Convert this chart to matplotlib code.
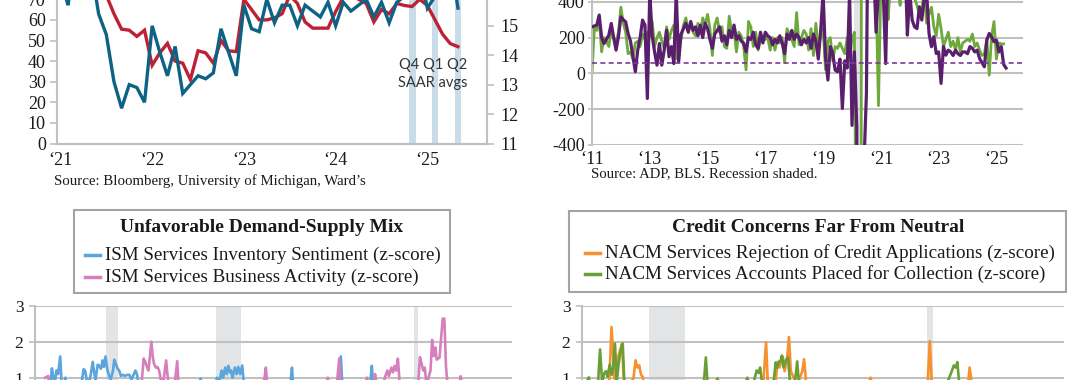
import matplotlib.pyplot as plt
from matplotlib.lines import Line2D
from matplotlib.patches import Rectangle

plt.rcParams['font.family'] = ['Liberation Serif', 'DejaVu Serif']
plt.rcParams['axes.unicode_minus'] = False

# ---------------- data ----------------
# top left: monthly, index 0 = Jan 2021
saar = [16.6, 15.7, 17.8, 18.5, 17.0, 15.4, 14.7, 13.1, 12.2, 13.0, 12.9, 12.4,
        15.0, 14.1, 13.3, 14.3, 12.7, 13.0, 13.3, 13.2, 13.4, 14.9, 14.1, 13.3,
        15.7, 14.9, 14.8, 15.9, 15.1, 15.7, 15.7, 15.0, 15.7, 15.5, 15.3, 15.8,
        15.0, 15.8, 15.5, 15.7, 15.9, 15.3, 15.8, 15.1, 15.8, 16.0, 16.5, 16.8,
        15.6, 16.0, 17.8, 17.3, 15.6]
umich = [78, 80, 84, 88, 81, 76, 72, 63, 55.5, 55, 52, 55,
         38, 44, 48.6, 40, 39, 31, 45, 44, 39, 50, 45, 44.6,
         70, 65, 60, 60, 61, 63, 72, 68, 59, 56, 56, 56,
         64, 71, 72, 70, 68, 59, 65, 63, 68, 67, 66.5, 70,
         67, 60, 53, 48.5, 47]
qtr_month = [46, 49, 52]
qtr_saar = [16.4, 16.5, 16.1]
qtr_labels = ['Q4', 'Q1', 'Q2']

# top right: monthly, index 0 = Jan 2011
adp = [260, 265, 270, 326, 200, 167, 190, 214, 279, 200, 130, 205,
       316, 300, 288, 223, 180, 93, 9, 130, 200, 298, 270, -140,
       450, 210, 120, 46, 167, 46, 130, 242, 93, 150, 55, 450,
       65, 220, 250, 280, 230, 290, 240, 260, 210, 270, 200, 280,
       250, 190, 140, 220, 240, 260, 180, 210, 160, 240, 200, 270,
       190, 210, 180, 170, 120, 200, 190, 230, 160, 140, 230, 170,
       230, 210, 200, 160, 190, 170, 210, 170, 110, 220, 190, 240,
       190, 220, 200, 160, 190, 170, 200, 140, 220, 180, 80, 240,
       450, 90, -37, 150, 111, 19, 9, 80, -196, 70, 30, 450,
       -290, 120, -300, -19400, -2800, -500, -110, 1500, 900, 600, 230, 450,
       480, 450, 55, 700, 650, 700, 600, 450, 600, 700, 650, 214,
       450, 298, 260, 250, 372, 298, 420, 450, 223, 149, 205, 111,
       120, -56, 150, 102, 130, 120, 100, 130, 110, 100, 120, 120,
       110, 150, 140, 120, 130, 83, 60, 37, 186, 223, 205, 177,
       186, 120, 150, 50, 30]
bls = [5, 255, 240, 310, 120, 200, 180, 150, 250, 200, 170, 230,
       370, 280, 230, 110, 120, 80, 170, 180, 150, 220, 190, 230,
       210, 290, 150, 200, 230, 180, 140, 260, 190, 240, 270, 80,
       180, 190, 270, 310, 230, 280, 230, 210, 280, 220, 310, 270,
       330, 250, 100, 270, 310, 230, 260, 150, 140, 320, 230, 240,
       120, 230, 210, 150, 20, 290, 260, 150, 230, 130, 180, 200,
       190, 200, 130, 200, 130, 200, 170, 200, 60, 250, 220, 190,
       150, 340, 160, 200, 240, 220, 130, 250, 100, 280, 140, 210,
       250, 20, 180, 200, 70, 150, 140, 170, 140, 110, 200, 100,
       190, 230, -1500, -19800, 3200, 4700, 1400, 1000, 800, 1000, 450, -180,
       500, 600, 700, 300, 500, 600, 700, 500, 380, 650, 700, 600,
       450, 800, 420, 380, 330, 360, 450, 280, 330, 370, 260, 210,
       330, 250, 150, 190, 230, 150, 180, 130, 200, 120, 170, 180,
       190, 180, 220, 150, 170, 130, 100, 110, 190, -10, 210, 290,
       80, 170, 165, 165]
adp_breakeven = 60

recessions = [(2001 + 2 / 12, 2001 + 11 / 12), (2007 + 11 / 12, 2009 + 6 / 12),
              (2020 + 1 / 12, 2020 + 4 / 12)]

# bottom left: ISM services z-scores (decimal year, value)
inv_yr = [1997.55, 1997.8, 1997.87, 1997.95, 1998.05, 1998.15, 1998.25, 1998.38, 1998.46, 1998.6,
          1998.7, 1998.8, 1999.6, 1999.82, 1999.92, 2000.02, 2000.2, 2000.38, 2000.46, 2000.55,
          2000.68, 2000.78, 2000.88, 2000.98, 2001.06, 2001.16, 2001.26, 2001.38, 2001.48, 2001.62,
          2001.7, 2001.8, 2001.9, 2002.0, 2002.1, 2002.22, 2002.35, 2002.5, 2002.62, 2002.75,
          2002.9, 2003.0, 2003.1, 2003.25, 2006.9, 2007.0, 2007.1, 2007.9, 2008.0, 2008.15,
          2008.28, 2008.38, 2008.5, 2008.6, 2008.7, 2008.8, 2008.87, 2008.95, 2009.1, 2009.2,
          2009.3, 2009.42, 2009.55, 2009.65, 2012.45, 2012.6, 2012.7, 2015.45, 2015.6, 2015.7,
          2017.35, 2017.5, 2017.6, 2025.4]
inv_val = [0.5, 0.9, 1.26, 1.05, 0.85, 1.2, 1.1, 1.59, 0.9, 0.8,
           1.0, 0.5, 0.6, 1.24, 1.18, 0.9, 0.95, 1.44, 1.15, 0.95,
           1.36, 1.33, 1.25, 1.48, 1.3, 1.59, 1.25, 1.05, 0.95, 1.2,
           1.5, 1.38, 1.25, 1.2, 1.05, 1.08, 1.05, 1.08, 1.08, 0.95,
           1.1, 1.2, 1.08, 0.6, 0.6, 0.98, 0.6, 0.8, 1.0, 0.9,
           1.2, 1.0, 1.28, 1.1, 1.33, 1.15, 1.2, 1.0, 1.28, 1.1,
           1.3, 1.1, 1.34, 0.8, 0.6, 1.28, 0.6, 0.7, 1.59, 0.7,
           0.6, 1.33, 0.7, 0.3]
act_yr = [1997.45, 1997.55, 1997.65, 1997.75, 2003.35, 2003.5, 2003.6, 2003.7, 2003.8, 2003.97,
          2004.07, 2004.14, 2004.25, 2004.35, 2004.45, 2004.55, 2004.7, 2004.88, 2004.98, 2005.1,
          2005.4, 2005.56, 2005.65, 2010.8, 2010.92, 2011.0, 2011.1, 2014.7, 2014.8, 2014.9,
          2015.35, 2015.5, 2015.6, 2017.1, 2017.2, 2017.3, 2017.6, 2017.7, 2017.8, 2018.2,
          2018.3, 2018.45, 2018.55, 2018.7, 2018.8, 2018.9, 2019.0, 2019.1, 2019.2, 2020.3,
          2020.45, 2020.55, 2020.65, 2020.75, 2020.85, 2021.1, 2021.2, 2021.3, 2021.4, 2021.48,
          2021.55, 2021.65, 2021.75, 2021.85, 2021.95, 2022.05, 2022.15, 2022.85, 2022.95, 2023.05,
          2025.4]
act_val = [1.0, 1.02, 1.05, 0.6, 0.7, 1.53, 1.44, 1.3, 1.2, 2.0,
           1.55, 1.38, 1.28, 1.3, 1.2, 0.95, 0.85, 1.48, 1.0, 0.7,
           0.8, 1.46, 0.7, 0.8, 1.0, 1.28, 0.7, 0.8, 1.0, 0.8,
           0.8, 1.53, 0.8, 0.8, 1.0, 0.8, 0.8, 1.1, 0.8, 0.8,
           1.0, 1.2, 1.05, 1.28, 1.15, 1.33, 1.2, 1.53, 0.9, 0.5,
           1.57, 1.4, 1.2, 1.28, 0.8, 1.2, 2.05, 1.6, 1.84, 1.5,
           1.53, 1.55, 2.1, 2.64, 2.64, 1.3, 0.8, 0.8, 1.04, 0.8,
           0.2]

# bottom right: NACM services z-scores (decimal year, value)
rej_yr = [2005.0, 2006.1, 2006.2, 2006.29, 2006.36, 2006.42, 2006.5, 2006.58, 2006.64, 2006.7,
          2006.75, 2006.82, 2007.0, 2007.25, 2007.34, 2007.42, 2007.5, 2007.58, 2007.65, 2007.75,
          2012.9, 2013.04, 2013.12, 2013.45, 2013.55, 2013.62, 2013.77, 2013.85, 2013.95, 2014.04,
          2014.12, 2014.4, 2014.62, 2014.7, 2014.8, 2017.5, 2017.6, 2017.7, 2020.1, 2020.19,
          2020.28, 2021.85, 2021.93, 2022.05, 2025.4]
rej_val = [0.5, 0.6, 1.0, 2.42, 1.7, 1.0, 1.3, 1.6, 1.73, 1.85,
           1.96, 1.0, 0.8, 1.0, 1.5, 1.3, 1.36, 1.1, 1.05, 0.7,
           0.7, 2.0, 0.8, 0.9, 1.46, 1.3, 1.6, 1.2, 1.5, 2.14,
           1.2, 0.8, 1.2, 1.53, 0.8, 0.8, 1.02, 0.8, 0.9, 2.03,
           0.8, 0.8, 1.3, 0.7, 0.3]
col_yr = [2005.0, 2005.2, 2005.3, 2005.4, 2005.7, 2005.79, 2005.88, 2005.98, 2006.05, 2006.12,
          2006.21, 2006.3, 2006.36, 2006.44, 2006.52, 2006.6, 2006.7, 2006.78, 2006.85, 2007.0,
          2010.3, 2010.41, 2010.5, 2010.85, 2010.92, 2011.0, 2012.15, 2012.22, 2012.3, 2012.5,
          2012.63, 2012.72, 2012.78, 2012.86, 2013.35, 2013.46, 2013.52, 2013.6, 2013.68, 2013.73,
          2013.8, 2013.9, 2014.0, 2014.08, 2014.3, 2014.4, 2014.48, 2020.9, 2021.15, 2021.24,
          2021.32, 2021.39, 2021.47, 2025.4]
col_val = [0.6, 0.9, 1.03, 0.7, 0.85, 1.8, 0.9, 1.15, 1.2, 1.05,
           1.38, 1.1, 1.3, 1.96, 0.9, 1.4, 1.8, 1.96, 0.9, 0.6,
           0.7, 1.58, 0.7, 0.9, 1.0, 0.8, 0.9, 1.02, 0.8, 0.9,
           1.22, 1.15, 1.3, 0.9, 0.8, 1.44, 1.3, 1.45, 1.5, 1.63,
           1.3, 1.5, 1.58, 0.9, 0.9, 1.47, 0.8, 0.8, 1.2, 1.36,
           1.3, 1.45, 0.9, 0.3]

# ---------------- layout helpers ----------------
W, H = 1080, 380
GRID = '#c0c0c0'
TXT = '#1a1a1a'
REC = '#e3e4e6'
fig = plt.figure(figsize=(W / 100, H / 100), dpi=100)


def box(left, top, right, bottom):
    # pixel box -> figure fraction rect
    return [left / W, 1 - bottom / H, (right - left) / W, (bottom - top) / H]


def fx(px):
    return px / W


def fy(py):
    return 1 - py / H


def style(a, left=True, right=False, bottom=True):
    for side, on in (('left', left), ('right', right), ('bottom', bottom), ('top', False)):
        a.spines[side].set_visible(on)
        a.spines[side].set_color(GRID)
        a.spines[side].set_linewidth(1.5)
    a.tick_params(colors=GRID, labelcolor=TXT, labelsize=13, width=1.2)


# ---------------- top left ----------------
ax = fig.add_axes(box(57, -62.5, 487, 143.5))
ax2 = ax.twinx()
months = list(range(len(saar)))
ax2.bar(qtr_month, qtr_saar, width=0.9, color='#c8dcea', zorder=1)
ax2.plot(range(len(umich)), umich, color='#be2135', lw=2.4, zorder=2,
         transform=ax.transData, solid_joinstyle='miter')
ax2.plot(months, saar, color='#0e6384', lw=2.4, zorder=3, solid_joinstyle='miter')
ax.set_xlim(-0.45, 55.8)
ax.set_ylim(0, 100)
ax2.set_ylim(11, 18)
ax.set_yticks(range(0, 71, 10))
ax2.set_yticks(range(11, 16))
ax.set_xticks([0, 12, 24, 36, 48])
ax.set_xticklabels(['\u201821', '\u201822', '\u201823', '\u201824', '\u201825'])
style(ax)
style(ax2, left=False, right=True)
ax.tick_params(axis='x', length=0, pad=6)
ax.tick_params(axis='y', length=5, pad=3)
ax2.tick_params(axis='y', length=5, pad=5)
fig.text(fx(433), fy(65), ' '.join(qtr_labels), family='Lato', fontsize=10.5,
         color='#333333', ha='center', va='center')
fig.text(fx(433), fy(83), 'SAAR avgs', family='Lato', fontsize=10.5,
         color='#333333', ha='center', va='center')
fig.text(fx(54), fy(181), 'Source: Bloomberg, University of Michigan, Ward\u2019s',
         fontsize=10.7, color=TXT, va='center')

# ---------------- top right ----------------
ax3 = fig.add_axes(box(591.7, -34, 1023.3, 145))
yrs_adp = [2011 + i / 12 for i in range(len(adp))]
yrs_bls = [2011 + i / 12 for i in range(len(bls))]
for s, e in recessions:
    ax3.axvspan(s, e, color=REC, lw=0, zorder=0)
ax3.plot(yrs_bls, bls, color='#6ea93c', lw=2.0, zorder=2)
ax3.plot(yrs_adp, adp, color='#5a1f6c', lw=2.3, zorder=3)
ax3.axhline(adp_breakeven, color='#7a3c9a', lw=1.2, ls=(0, (3, 2)), zorder=4)
ax3.set_xlim(2010.99, 2025.93)
ax3.set_ylim(-400, 600)
ax3.set_yticks(range(-400, 401, 200))
ax3.set_xticks(range(2011, 2026, 2))
ax3.set_xticklabels(['\u2018%02d' % (y % 100) for y in range(2011, 2026, 2)])
ax3.grid(axis='y', color=GRID, lw=1.5)
ax3.set_axisbelow(True)
style(ax3, bottom=False)
ax3.tick_params(axis='x', length=0, pad=4)
ax3.tick_params(axis='y', length=3, pad=2)
fig.text(fx(591), fy(174), 'Source: ADP, BLS. Recession shaded.',
         fontsize=10.6, color=TXT, va='center')

# ---------------- bottom panels ----------------
panels = [
    (box(34.6, 305.7, 512, 521.7), (1996.81, 2026.1),
     [(inv_yr, inv_val, '#5aa5de', 'ISM Services Inventory Sentiment (z-score)'),
      (act_yr, act_val, '#d67fbd', 'ISM Services Business Activity (z-score)')],
     'Unfavorable Demand-Supply Mix', (74, 210, 450, 293), (85, 105), (255, 277)),
    (box(581.5, 306, 1064, 523.2), (2004.98, 2026.05),
     [(rej_yr, rej_val, '#f7902e', 'NACM Services Rejection of Credit Applications (z-score)'),
      (col_yr, col_val, '#6a9f37', 'NACM Services Accounts Placed for Collection (z-score)')],
     'Credit Concerns Far From Neutral', (569.4, 210.7, 1066, 291.7), (585, 605), (253, 274)),
]
for rect, xlim, series, title, (bx0, by0, bx1, by1), (hx, tx), rows in panels:
    a = fig.add_axes(rect)
    for s, e in recessions:
        a.axvspan(s, e, color=REC, lw=0, zorder=0)
    for xs, ys, col, lab in series:
        a.plot(xs, ys, color=col, lw=1.9, zorder=3)
    a.set_xlim(*xlim)
    a.set_ylim(-3, 3)
    a.set_yticks(range(1, 4))
    a.set_yticks(range(-3, 1), minor=True)
    a.set_xticks([])
    a.grid(axis='y', which='both', color=GRID, lw=1.5)
    a.set_axisbelow(True)
    style(a, bottom=False)
    a.tick_params(axis='y', length=4, pad=4, labelsize=12.5)

    # legend box drawn by hand to match the original framing
    fig.add_artist(Rectangle((fx(bx0), fy(by1)), fx(bx1) - fx(bx0), fy(by0) - fy(by1),
                             transform=fig.transFigure, fill=False, ec='#a3a3a3', lw=1.5))
    fig.text(fx((bx0 + bx1) / 2), fy(by0 + 17), title, fontsize=14, weight='bold',
             color=TXT, ha='center', va='center')
    for (xs, ys, col, lab), ry in zip(series, rows):
        fig.add_artist(Line2D([fx(hx), fx(hx + 15)], [fy(ry), fy(ry)],
                              transform=fig.transFigure, color=col, lw=2.5))
        fig.text(fx(tx), fy(ry), lab, fontsize=13.7, color=TXT, ha='left', va='center')

fig.savefig('out.png', dpi=100)
